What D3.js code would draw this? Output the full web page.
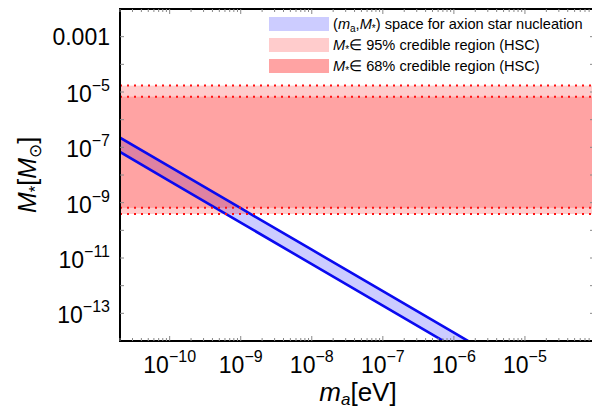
<!DOCTYPE html>
<html>
<head>
<meta charset="utf-8">
<script src="https://cdn.jsdelivr.net/npm/d3@7.9.0/dist/d3.min.js"></script>
<style>
  body { margin: 0; background: #fff; }
  svg { display: block; font-family: "Liberation Sans", Arial, sans-serif; }
</style>
</head>
<body>
<svg id="chart" width="592" height="409"></svg>
<script>
// axion mass grid [eV] and the two edges of the nucleation band [M_sun]
const massAxion = [2e-11, 1e-10, 1e-9, 1e-8, 1e-7, 1e-6, 1e-5];
const bandUpper = [2.24e-7, 2e-8, 6.3e-10, 2e-11, 6.3e-13, 2e-14, 6.3e-16];
const bandLower = [6.8e-8, 6e-9, 1.9e-10, 6e-12, 1.9e-13, 6e-15, 1.9e-16];

// HSC credible regions for M_*  [low, high]
const cred95 = [3.9e-10, 1.7e-5];
const cred68 = [6.5e-10, 6.8e-6];

const xTicks = [1e-10, 1e-9, 1e-8, 1e-7, 1e-6, 1e-5];
const xTickLabels = ['−10', '−9', '−8', '−7', '−6', '−5'];
const yTicks = [1e-3, 1e-5, 1e-7, 1e-9, 1e-11, 1e-13];
const yTickLabels = ['0.001', '−5', '−7', '−9', '−11', '−13'];

const legendLabels = ['space for axion star nucleation', '∈ 95% credible region (HSC)', '∈ 68% credible region (HSC)'];

const pL = 120, pR = 596, pT = 9, pB = 341;

const svg = d3.select('#chart');
const x = d3.scaleLog().domain([2e-11, 1e-4]).range([pL, pR]);
const y = d3.scaleLog().domain([1e-14, 1e-2]).range([pB, pT]);

svg.append('defs').append('clipPath').attr('id', 'plotclip')
  .append('rect').attr('x', pL).attr('y', pT)
  .attr('width', pR - pL).attr('height', pB - pT);

const plot = svg.append('g').attr('clip-path', 'url(#plotclip)');

// blue band
const band = massAxion.map((m, i) => ({ m, hi: bandUpper[i], lo: bandLower[i] }));
plot.append('path')
  .datum(band)
  .attr('fill', 'rgba(0,0,255,0.2)')
  .attr('d', d3.area().x(d => x(d.m)).y0(d => y(d.lo)).y1(d => y(d.hi)));

// red credible regions
[cred95, cred68].forEach(r => {
  plot.append('rect')
    .attr('x', pL).attr('width', pR - pL)
    .attr('y', y(r[1])).attr('height', y(r[0]) - y(r[1]))
    .attr('fill', 'rgba(255,0,0,0.2)');
});

// band edges
const edge = d3.line().x(d => x(d[0])).y(d => y(d[1]));
[bandUpper, bandLower].forEach(vals => {
  plot.append('path')
    .datum(massAxion.map((m, i) => [m, vals[i]]))
    .attr('fill', 'none')
    .attr('stroke', '#0a0af0')
    .attr('stroke-width', 2.6)
    .attr('d', edge);
});

// dotted boundaries
[...cred95, ...cred68].forEach(v => {
  plot.append('line')
    .attr('x1', pL).attr('x2', pR)
    .attr('y1', y(v)).attr('y2', y(v))
    .attr('stroke', '#ff1010')
    .attr('stroke-width', 2)
    .attr('stroke-dasharray', '2,5');
});

// frame
svg.append('rect')
  .attr('x', pL).attr('y', pT)
  .attr('width', pR - pL).attr('height', pB - pT)
  .attr('fill', 'none').attr('stroke', '#000').attr('stroke-width', 2);

// ticks (inward, all four sides)
const ticks = svg.append('g').attr('stroke', '#888').attr('stroke-width', 1);
const xAll = x.ticks(60).filter(v => v >= 2e-11 && v <= 1e-4);
xAll.forEach(v => {
  const major = Math.abs(Math.log10(v) - Math.round(Math.log10(v))) < 1e-6;
  const len = major ? 5 : 3;
  ticks.append('line').attr('x1', x(v)).attr('x2', x(v)).attr('y1', pB).attr('y2', pB - len);
  ticks.append('line').attr('x1', x(v)).attr('x2', x(v)).attr('y1', pT).attr('y2', pT + len);
});
d3.range(-13, -2).forEach(p => {
  const v = Math.pow(10, p);
  ticks.append('line').attr('x1', pL).attr('x2', pL + 4).attr('y1', y(v)).attr('y2', y(v));
  ticks.append('line').attr('x1', pR).attr('x2', pR - 6).attr('y1', y(v)).attr('y2', y(v));
});

// x tick labels
xTicks.forEach((v, i) => {
  const t = svg.append('text')
    .attr('x', x(v)).attr('y', 373)
    .attr('text-anchor', 'middle')
    .attr('font-size', 23);
  t.append('tspan').text('10');
  t.append('tspan').attr('font-size', 16).attr('dy', -11).text(xTickLabels[i]);
});

// y tick labels
yTicks.forEach((v, i) => {
  const t = svg.append('text')
    .attr('x', 110).attr('y', y(v) + 10)
    .attr('text-anchor', 'end')
    .attr('font-size', 23);
  if (i === 0) {
    t.attr('y', y(v) + 8).text(yTickLabels[i]);
  } else {
    t.append('tspan').text('10');
    t.append('tspan').attr('font-size', 16).attr('dy', -11).text(yTickLabels[i]);
  }
});

// axis titles
const xt = svg.append('text')
  .attr('x', (pL + pR) / 2).attr('y', 401)
  .attr('text-anchor', 'middle').attr('font-size', 26);
xt.append('tspan').attr('font-style', 'italic').text('m');
xt.append('tspan').attr('font-size', 17).attr('dy', 4).attr('font-style', 'italic').text('a');
xt.append('tspan').attr('dy', -4).text('[eV]');

const yt = svg.append('text')
  .attr('transform', `translate(36,${(pT + pB) / 2}) rotate(-90)`)
  .attr('text-anchor', 'middle').attr('font-size', 25);
yt.append('tspan').attr('font-style', 'italic').text('M');
yt.append('tspan').attr('font-size', 17).attr('dy', 5).text('*');
yt.append('tspan').attr('dy', -5).text('[');
yt.append('tspan').attr('font-style', 'italic').text('M');
yt.append('tspan').attr('font-size', 17).attr('dy', 5).text('⊙');
yt.append('tspan').attr('dy', -5).text(']');

// legend
const swatchFill = ['rgba(0,0,255,0.2)', 'rgba(255,0,0,0.2)', 'rgba(255,0,0,0.36)'];
const legend = svg.append('g').attr('font-size', 14.6);
legendLabels.forEach((lab, i) => {
  const yy = 17 + i * 21;
  legend.append('rect')
    .attr('x', 269).attr('y', yy).attr('width', 60).attr('height', 14)
    .attr('fill', swatchFill[i]);
  const t = legend.append('text').attr('x', 333).attr('y', yy + 12);
  if (i === 0) {
    t.append('tspan').text('(');
    t.append('tspan').attr('font-style', 'italic').text('m');
    t.append('tspan').attr('font-size', 10).attr('dy', 3).text('a');
    t.append('tspan').attr('dy', -3).text(',');
    t.append('tspan').attr('font-style', 'italic').text('M');
    t.append('tspan').attr('font-size', 10).attr('dy', 3).text('*');
    t.append('tspan').attr('dy', -3).text(') ' + lab);
  } else {
    t.append('tspan').attr('font-style', 'italic').text('M');
    t.append('tspan').attr('font-size', 10).attr('dy', 3).text('*');
    t.append('tspan').attr('dy', -3).text(lab);
  }
});
</script>
</body>
</html>
